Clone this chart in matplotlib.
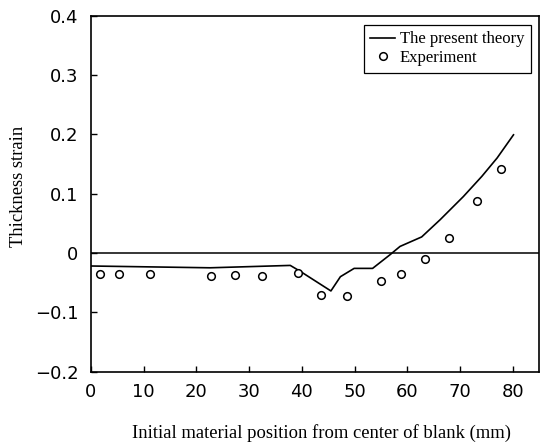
import numpy as np
import matplotlib
matplotlib.use('Agg')
import matplotlib.pyplot as plt

# theory curve (position mm, thickness strain)
theory_x = [0.2, 22.6, 37.8, 39.7, 45.5, 47.3, 49.9, 53.4, 56.7, 58.6,
            62.7, 66.2, 70.6, 74.1, 77.0, 80.1]
theory_y = [-0.022, -0.025, -0.021, -0.031, -0.064, -0.040, -0.026, -0.026,
            -0.003, 0.011, 0.027, 0.056, 0.095, 0.129, 0.160, 0.199]

# measured values
exp_x = [1.8, 5.4, 11.2, 22.8, 27.4, 32.4, 39.3, 43.6, 48.6, 55.0, 58.8,
         63.4, 67.9, 73.2, 77.7]
exp_y = [-0.036, -0.036, -0.036, -0.038, -0.037, -0.039, -0.034, -0.071,
         -0.073, -0.048, -0.035, -0.010, 0.026, 0.088, 0.142]

xticks = [0, 10, 20, 30, 40, 50, 60, 70, 80]
yticks = [-0.2, -0.1, 0, 0.1, 0.2, 0.3, 0.4]
ytick_labels = ['\u22120.2', '\u22120.1', '0', '0.1', '0.2', '0.3', '0.4']

serif = 'Liberation Serif'

fig = plt.figure(figsize=(5.47, 4.43), dpi=100)
ax = fig.add_axes([0.166, 0.161, 0.820, 0.804])

ax.axhline(0, color='black', lw=1.1)
ax.plot(theory_x, theory_y, color='black', lw=1.2, label='The present theory')
ax.plot(exp_x, exp_y, ls='none', marker='o', ms=5.5, mfc='white',
        mec='black', mew=1.1, label='Experiment')

ax.set_xlim(0, 85)
ax.set_ylim(-0.2, 0.4)
ax.set_xticks(xticks)
ax.set_yticks(yticks)
ax.set_yticklabels(ytick_labels)
ax.tick_params(direction='in', length=4, width=1, labelsize=13,
               top=False, right=False)
ax.tick_params(axis='y', pad=9)
ax.tick_params(axis='x', pad=8)
for s in ax.spines.values():
    s.set_linewidth(1.2)

ax.set_ylabel('Thickness strain', family=serif, fontsize=13.4)
ax.yaxis.set_label_coords(-0.143, 0.519)
ax.set_xlabel('Initial material position from center of blank (mm)',
              family=serif, fontsize=13.4)
ax.xaxis.set_label_coords(0.515, -0.148)

leg = ax.legend(loc='upper right', bbox_to_anchor=(0.981, 0.974),
                borderaxespad=0, fancybox=False, framealpha=1,
                handlelength=1.5, handletextpad=0.25, borderpad=0.4,
                labelspacing=0.15, prop={'family': serif, 'size': 12})
leg.get_frame().set_edgecolor('black')
leg.get_frame().set_linewidth(0.9)

fig.savefig('out.png', dpi=100)
